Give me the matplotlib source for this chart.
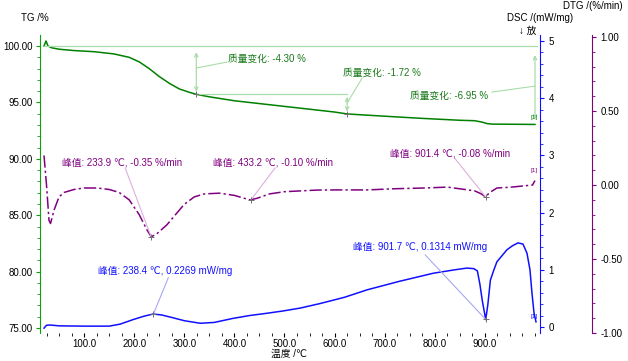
import matplotlib
matplotlib.use('Agg')
import matplotlib.pyplot as plt
from matplotlib.ticker import MultipleLocator, FormatStrFormatter

plt.rcParams['font.family'] = ['Liberation Sans', 'DejaVu Sans', 'Noto Sans CJK SC']
plt.rcParams['font.size'] = 7

# TG curve (%)
tg_temp = [20, 24, 28, 35, 50, 80, 120, 160, 190, 210, 230, 250, 270, 290, 310, 324,
           350, 400, 450, 500, 550, 600, 625, 700, 770, 850, 880, 895, 905, 915, 950, 1000]
tg_val = [100.0, 100.45, 100.0, 99.85, 99.72, 99.6, 99.5, 99.3, 99.0, 98.6, 98.0, 97.3,
          96.7, 96.2, 95.9, 95.72, 95.5, 95.15, 94.9, 94.65, 94.4, 94.15, 93.98, 93.78,
          93.6, 93.42, 93.38, 93.25, 93.12, 93.08, 93.07, 93.05]

# DTG curve (%/min)
dtg_temp = [20, 25, 30, 33, 40, 50, 60, 80, 100, 126, 150, 170, 190, 210, 225, 234, 245, 265,
            285, 300, 320, 340, 370, 400, 420, 431, 445, 470, 500, 530, 565, 600, 665, 720,
            780, 825, 860, 880, 893, 901, 910, 924, 950, 980, 995, 1000]
dtg_val = [0.20, 0.0, -0.24, -0.26, -0.17, -0.08, -0.05, -0.03, -0.02, -0.02, -0.03, -0.05,
           -0.10, -0.20, -0.30, -0.35, -0.33, -0.27, -0.19, -0.13, -0.08, -0.06, -0.055, -0.07,
           -0.09, -0.10, -0.09, -0.06, -0.045, -0.04, -0.034, -0.033, -0.033, -0.025, -0.02,
           -0.014, -0.03, -0.04, -0.06, -0.08, -0.05, -0.02, -0.015, -0.005, 0.0, 0.03]

# DSC curve (mW/mg)
dsc_temp = [20, 25, 32, 50, 100, 150, 172, 198, 220, 238, 255, 278, 300, 332, 360, 397, 430,
            465, 497, 531, 571, 620, 665, 730, 797, 840, 864, 878, 885, 890, 895, 901.7, 906,
            911, 918, 924, 944, 955, 966, 976, 984, 990, 994, 998, 1002]
dsc_val = [-0.02, 0.03, 0.035, 0.02, 0.015, 0.015, 0.05, 0.13, 0.19, 0.227, 0.21, 0.16, 0.11,
           0.065, 0.08, 0.15, 0.20, 0.24, 0.28, 0.33, 0.41, 0.52, 0.65, 0.80, 0.94, 1.0, 1.03,
           1.02, 0.98, 0.75, 0.45, 0.13, 0.40, 0.82, 1.0, 1.14, 1.35, 1.42, 1.47, 1.45, 1.29,
           1.0, 0.59, 0.25, 0.09]

green = '#008000'
lgreen = '#a8dca8'
purple = '#800080'
lpurple = '#dcb0dc'
blue = '#1010ff'
lblue = '#a8a8f0'

fig = plt.figure(figsize=(6.28, 3.61), dpi=100)
ax = fig.add_axes([40 / 628, 1 - 333 / 361, 500 / 628, 298 / 361])
ax2 = ax.twinx()
ax3 = ax.twinx()

# TG
ax.plot(tg_temp, tg_val, color=green, lw=1.1)
ax.set_xlim(12, 1010)
ax.set_ylim(74.56, 100.98)
ax.yaxis.set_major_locator(MultipleLocator(5))
ax.yaxis.set_minor_locator(MultipleLocator(1))
ax.yaxis.set_major_formatter(FormatStrFormatter('%.2f'))
ax.xaxis.set_minor_locator(MultipleLocator(25))
ax.xaxis.set_major_formatter(FormatStrFormatter('%.1f'))
ax.set_xticks([100, 200, 300, 400, 500, 600, 700, 800, 900])
for s in ['top', 'right', 'bottom']:
    ax.spines[s].set_visible(False)
ax.spines['left'].set_color('#10a010')
ax.tick_params(axis='y', which='major', length=3, color='#10a010', pad=2)
ax.tick_params(axis='y', which='minor', length=2, color='#10a010')
ax.tick_params(axis='x', which='major', length=3, pad=1.5)
ax.tick_params(axis='x', which='minor', length=2)

# DSC
ax2.plot(dsc_temp, dsc_val, color=blue, lw=1.1)
ax2.set_ylim(-0.105, 5.105)
ax2.yaxis.set_major_locator(MultipleLocator(1))
ax2.yaxis.set_minor_locator(MultipleLocator(0.2))
for s in ['top', 'left', 'bottom']:
    ax2.spines[s].set_visible(False)
ax2.spines['right'].set_color(blue)
ax2.tick_params(axis='y', which='major', length=3, color=blue, pad=3)
ax2.tick_params(axis='y', which='minor', length=2, color=blue)

# DTG
ax3.plot(dtg_temp, dtg_val, color=purple, lw=1.1, linestyle=(0, (8, 2, 1.5, 2)))
ax3.set_ylim(-1.0, 1.014)
ax3.spines['right'].set_position(('axes', 552 / 500))
ax3.yaxis.set_major_locator(MultipleLocator(0.5))
ax3.yaxis.set_minor_locator(MultipleLocator(0.1))
ax3.yaxis.set_major_formatter(FormatStrFormatter('%.2f'))
for s in ['top', 'left', 'bottom']:
    ax3.spines[s].set_visible(False)
ax3.spines['right'].set_color(purple)
ax3.tick_params(axis='y', which='major', length=3, color=purple, pad=3)
ax3.tick_params(axis='y', which='minor', length=2, color=purple)

# mass change annotations
arw = dict(arrowstyle='<->', color=lgreen, lw=0.9, shrinkA=0, shrinkB=0, mutation_scale=6)
ax.plot([20, 1005], [100.0, 100.0], color=lgreen, lw=0.9)
ax.plot([324, 625], [95.72, 95.72], color=lgreen, lw=0.9)
ax.annotate('', xy=(324, 95.95), xytext=(324, 99.45), arrowprops=arw)
ax.annotate('', xy=(625, 94.2), xytext=(625, 95.5), arrowprops=arw)
ax.annotate('', xy=(1000, 93.5), xytext=(1000, 99.2), arrowprops=arw)
ax.plot([324, 385], [98.05, 98.58], color=lgreen, lw=0.8)
ax.plot([625, 655], [94.95, 97.16], color=lgreen, lw=0.8)
ax.plot([914, 1000], [95.92, 96.45], color=lgreen, lw=0.8)
ax.plot([324, 625], [95.72, 93.98], '+', color='#707070', ms=5, mew=0.7)
ax.text(387, 98.85, '质量变化: -4.30 %', color='#1a7a1a', va='center', ha='left')
ax.text(617, 97.6, '质量变化: -1.72 %', color='#1a7a1a', va='center', ha='left')
ax.text(751, 95.57, '质量变化: -6.95 %', color='#1a7a1a', va='center', ha='left')
ax.text(998, 93.7, '[1]', color=green, fontsize=4.5, ha='center', va='center')

# DTG peak annotations
ax3.plot([182, 233.9], [0.115, -0.35], color=lpurple, lw=0.8)
ax3.plot([481, 433.2], [0.115, -0.10], color=lpurple, lw=0.8)
ax3.plot([840, 901.4], [0.18, -0.08], color=lpurple, lw=0.8)
ax3.plot([233.9, 433.2, 901.4], [-0.35, -0.10, -0.08], '+', color='#707070', ms=5, mew=0.7)
ax3.text(56, 0.149, '峰值: 233.9 ℃, -0.35 %/min', color=purple, va='center', ha='left')
ax3.text(357, 0.149, '峰值: 433.2 ℃, -0.10 %/min', color=purple, va='center', ha='left')
ax3.text(711, 0.216, '峰值: 901.4 ℃, -0.08 %/min', color=purple, va='center', ha='left')
ax3.text(998, 0.10, '[1]', color=purple, fontsize=4.5, ha='center', va='center')

# DSC peak annotations
ax2.plot([268, 238.4], [0.86, 0.2269], color=lblue, lw=0.8)
ax2.plot([781, 901.7], [1.26, 0.1314], color=lblue, lw=0.8)
ax2.plot([238.4, 901.7], [0.2269, 0.1314], '+', color='#707070', ms=5, mew=0.7)
ax2.text(128, 0.98, '峰值: 238.4 ℃, 0.2269 mW/mg', color=blue, va='center', ha='left')
ax2.text(637, 1.40, '峰值: 901.7 ℃, 0.1314 mW/mg', color=blue, va='center', ha='left')
ax2.text(998, 0.19, '[1]', color=blue, fontsize=4.5, ha='center', va='center')

# axis titles
fig.text(21 / 628, 1 - 18 / 361, 'TG /%', va='center', ha='left')
fig.text(540 / 628, 1 - 18 / 361, 'DSC /(mW/mg)', va='center', ha='center')
fig.text(528 / 628, 1 - 31 / 361, '↓ 放', va='center', ha='center')
fig.text(623 / 628, 1 - 6 / 361, 'DTG /(%/min)', va='center', ha='right')
fig.text(289 / 628, 1 - 354 / 361, '温度 /℃', va='center', ha='center')

fig.savefig('out.png', dpi=100)
